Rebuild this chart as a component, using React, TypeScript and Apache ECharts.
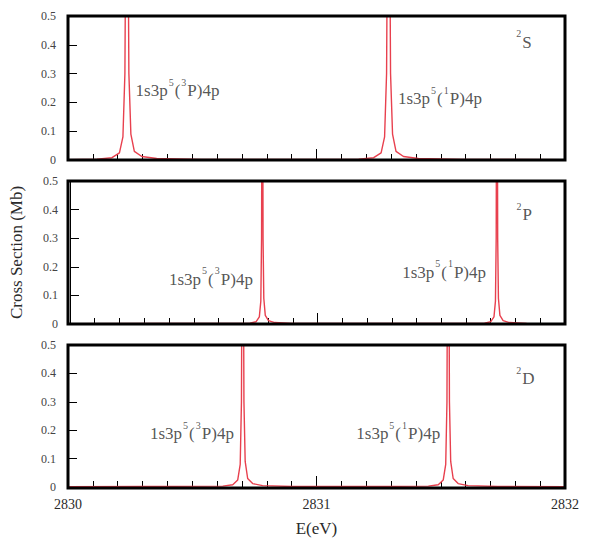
import React, { useEffect, useRef } from 'react';
import * as echarts from 'echarts';

// x range and ticks
const energyMin = 2830;
const energyMax = 2832;
const crossMax = 0.5;

// Panel 1 : 2S
const energy2S = [2830.0, 2830.117, 2830.177, 2830.207, 2830.221, 2830.229, 2830.233, 2830.237, 2830.241, 2830.245, 2830.253, 2830.267, 2830.297, 2830.357, 2830.537, 2830.85, 2831.170, 2831.230, 2831.260, 2831.274, 2831.282, 2831.286, 2831.290, 2831.294, 2831.298, 2831.306, 2831.320, 2831.350, 2831.410, 2831.590, 2832.0];
const cross2S = [0.001, 0.003, 0.008, 0.025, 0.08, 0.3, 0.9, 2.0, 0.9, 0.3, 0.09, 0.03, 0.012, 0.005, 0.002, 0.0015, 0.003, 0.008, 0.025, 0.08, 0.3, 0.9, 2.0, 0.9, 0.3, 0.09, 0.03, 0.012, 0.005, 0.002, 0.001];

// Panel 2 : 2P
const energy2P = [2830.0, 2830.727, 2830.752, 2830.765, 2830.771, 2830.774, 2830.7755, 2830.777, 2830.7785, 2830.780, 2830.783, 2830.789, 2830.802, 2830.827, 2830.897, 2831.3, 2831.675, 2831.700, 2831.713, 2831.719, 2831.722, 2831.7235, 2831.725, 2831.7265, 2831.728, 2831.731, 2831.737, 2831.750, 2831.775, 2831.845, 2832.0];
const cross2P = [0.001, 0.003, 0.008, 0.025, 0.08, 0.3, 0.9, 2.0, 0.9, 0.3, 0.09, 0.03, 0.012, 0.005, 0.002, 0.0015, 0.003, 0.008, 0.025, 0.08, 0.3, 0.9, 2.0, 0.9, 0.3, 0.09, 0.03, 0.012, 0.005, 0.002, 0.001];

// Panel 3 : 2D
const energy2D = [2830.0, 2830.623, 2830.663, 2830.683, 2830.693, 2830.698, 2830.7005, 2830.703, 2830.7055, 2830.708, 2830.713, 2830.723, 2830.743, 2830.783, 2830.903, 2831.2, 2831.450, 2831.490, 2831.510, 2831.520, 2831.525, 2831.5275, 2831.530, 2831.5325, 2831.535, 2831.540, 2831.550, 2831.570, 2831.610, 2831.730, 2832.0];
const cross2D = [0.001, 0.003, 0.008, 0.025, 0.08, 0.3, 0.9, 2.0, 0.9, 0.3, 0.09, 0.03, 0.012, 0.005, 0.002, 0.0015, 0.003, 0.008, 0.025, 0.08, 0.3, 0.9, 2.0, 0.9, 0.3, 0.09, 0.03, 0.012, 0.005, 0.002, 0.001];

// Resonance annotations per panel: position (energy, height) and parent term multiplicity
const noteEnergy2S = [2830.272, 2831.328];
const noteHeight2S = [0.25, 0.222];
const noteEnergy2P = [2830.40, 2831.342];
const noteHeight2P = [0.166, 0.19];
const noteEnergy2D = [2830.33, 2831.16];
const noteHeight2D = [0.197, 0.197];
const noteParent = ['3', '1'];

// Panel term labels
const termMultiplicity = ['2', '2', '2'];
const termLetter = ['S', 'P', 'D'];
const termEnergy = [2831.80, 2831.80, 2831.80];
const termHeight = [0.417, 0.39, 0.39];

const FONT = 'Liberation Serif';

const grids = [
  { left: 68, right: 26, top: 16, height: 144 },
  { left: 68, right: 26, top: 181, height: 143 },
  { left: 68, right: 26, top: 345, height: 143 },
];
const WIDTH = 591;
const HEIGHT = 538;

export default function App() {
  const ref = useRef<HTMLDivElement>(null);
  useEffect(() => {
    if (!ref.current) return;
    const chart = echarts.init(ref.current, undefined, { renderer: 'svg' });
    const energies = [energy2S, energy2P, energy2D];
    const crosses = [cross2S, cross2P, cross2D];
    const noteE = [noteEnergy2S, noteEnergy2P, noteEnergy2D];
    const noteH = [noteHeight2S, noteHeight2P, noteHeight2D];

    const rich = {
      n: { fontSize: 17, fontFamily: FONT, color: '#2a2a2a', verticalAlign: 'bottom', lineHeight: 22 },
      s: { fontSize: 10, fontFamily: FONT, color: '#2a2a2a', verticalAlign: 'top', lineHeight: 10, padding: [0, 1, 0, 1] },
      t: { fontSize: 17, fontFamily: FONT, color: '#2a2a2a', verticalAlign: 'bottom', lineHeight: 22 },
    };

    const series: any[] = [];
    for (let i = 0; i < 3; i++) {
      series.push({
        type: 'line',
        xAxisIndex: i,
        yAxisIndex: i,
        data: energies[i].map((e, k) => [e, crosses[i][k]]),
        showSymbol: false,
        symbol: 'none',
        lineStyle: { color: '#e8404e', width: 1.4 },
        clip: true,
        z: 2,
      });
      series.push({
        type: 'scatter',
        xAxisIndex: i,
        yAxisIndex: i,
        symbolSize: 0,
        silent: true,
        data: noteE[i].map((e, k) => [e, noteH[i][k]]),
        label: {
          show: true,
          position: 'right',
          distance: 0,
          fontFamily: FONT,
          formatter: (p: any) => `{n|1s3p}{s|5}{n|(}{s|${noteParent[p.dataIndex]}}{n|P)4p}`,
          rich,
        },
        z: 5,
      });
      series.push({
        type: 'scatter',
        xAxisIndex: i,
        yAxisIndex: i,
        symbolSize: 0,
        silent: true,
        data: [[termEnergy[i], termHeight[i]]],
        label: {
          show: true,
          position: 'right',
          distance: 0,
          fontFamily: FONT,
          formatter: `{s|${termMultiplicity[i]}}{t|${termLetter[i]}}`,
          rich,
        },
        z: 5,
      });
    }

    const option: any = {
      animation: false,
      backgroundColor: '#ffffff',
      textStyle: { fontFamily: FONT },
      grid: grids.map((g) => ({ ...g, containLabel: false })),
      xAxis: grids.map((_, i) => ({
        type: 'value',
        gridIndex: i,
        min: energyMin,
        max: energyMax,
        interval: 1,
        axisLine: { show: true, lineStyle: { color: '#000', width: 1 } },
        axisTick: { show: true, inside: true, length: 11, lineStyle: { color: '#000', width: 1 } },
        minorTick: { show: true, splitNumber: 10, length: 6, lineStyle: { color: '#000', width: 1 } },
        splitLine: { show: false },
        axisLabel: {
          show: i === 2,
          fontSize: 14,
          fontFamily: FONT,
          color: '#2a2a2a',
          margin: 10,
          formatter: (v: number) => String(v),
        },
        name: i === 2 ? 'E(eV)' : '',
        nameLocation: 'middle',
        nameGap: 33,
        nameTextStyle: { fontSize: 17, fontFamily: FONT, color: '#2a2a2a' },
      })),
      yAxis: grids.map((_, i) => ({
        type: 'value',
        gridIndex: i,
        min: 0,
        max: crossMax,
        interval: 0.1,
        axisLine: { show: true, lineStyle: { color: '#000', width: 1 } },
        axisTick: { show: true, inside: true, length: 9, lineStyle: { color: '#000', width: 1 } },
        splitLine: { show: false },
        axisLabel: { fontSize: 12, fontFamily: FONT, color: '#444', margin: 12 },
        name: i === 1 ? 'Cross Section (Mb)' : '',
        nameLocation: 'middle',
        nameRotate: 90,
        nameGap: 45,
        nameTextStyle: { fontSize: 17, fontFamily: FONT, color: '#2a2a2a' },
      })),
      graphic: grids.map((g) => ({
        type: 'rect',
        silent: true,
        z: 100,
        shape: { x: g.left, y: g.top, width: WIDTH - g.left - g.right, height: g.height },
        style: { fill: 'none', stroke: '#000', lineWidth: 3 },
      })),
      series,
    };
    chart.setOption(option);
    return () => chart.dispose();
  }, []);
  return (
    <div
      ref={ref}
      style={{ position: 'fixed', left: 0, top: 0, width: WIDTH, height: HEIGHT, background: '#fff' }}
    />
  );
}
